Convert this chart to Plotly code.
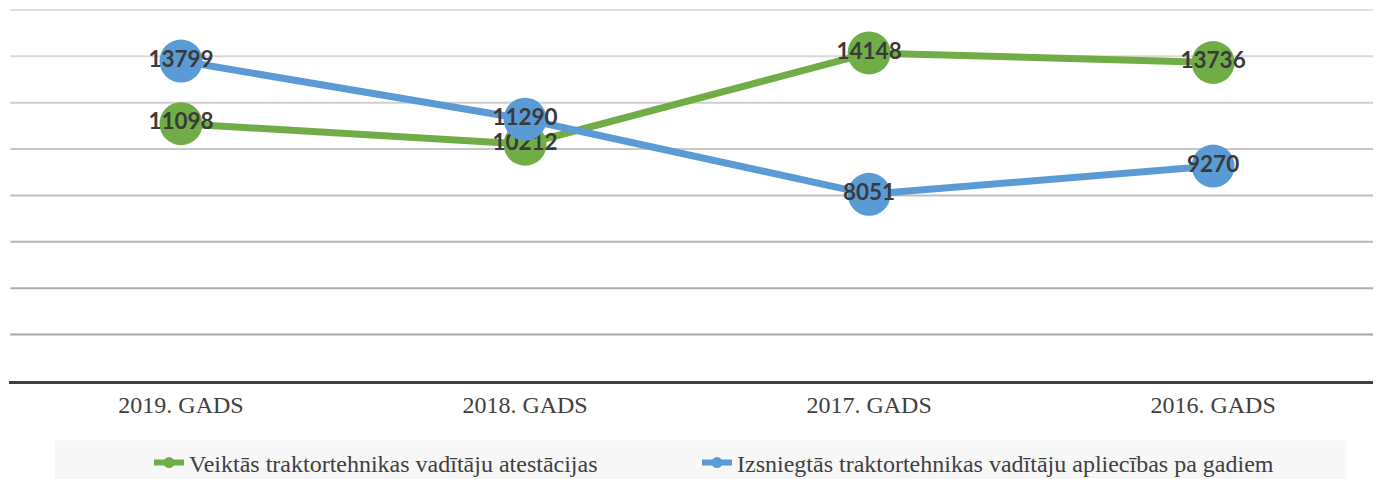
import plotly.graph_objects as go

categories = ["2019. GADS", "2018. GADS", "2017. GADS", "2016. GADS"]
atestacijas = [11098, 10212, 14148, 13736]
apliecibas = [13799, 11290, 8051, 9270]
name_green = "Veiktās traktortehnikas vadītāju atestācijas"
name_blue = "Izsniegtās traktortehnikas vadītāju apliecības pa gadiem"
grid_values = [2000, 4000, 6000, 8000, 10000, 12000, 14000, 16000]

GREEN = "#70ad47"
BLUE = "#5b9bd5"
TXT = "#404040"

fig = go.Figure()

# gridlines (gradient from dark at bottom to light at top)
n = len(grid_values)
for i, gv in enumerate(grid_values):
    t = i / (n - 1)
    c = int(round(0xa6 + t * (0xe0 - 0xa6)))
    fig.add_shape(type="line", xref="paper", yref="y", x0=0.001, x1=1, y0=gv, y1=gv,
                  line=dict(color=f"rgb({c},{c},{c})", width=2), layer="below")

for name, vals, col in [(name_green, atestacijas, GREEN), (name_blue, apliecibas, BLUE)]:
    fig.add_trace(go.Scatter(
        x=categories, y=vals, mode="lines+markers+text",
        line=dict(color=col, width=7),
        marker=dict(color=col, size=43),
        text=[str(v) for v in vals], textposition="middle center",
        textfont=dict(family="Lato", size=22.5, color="#3a3a3a", weight="bold"),
        showlegend=False, cliponaxis=False,
    ))
for name, col, lg in [(name_green, GREEN, "legend"), (name_blue, BLUE, "legend2")]:
    fig.add_trace(go.Scatter(
        x=[None], y=[None], mode="lines+markers", name=name, legend=lg,
        line=dict(color=col, width=6), marker=dict(color=col, size=11),
    ))

fig.add_shape(type="rect", xref="paper", yref="paper",
              x0=(47 - 1) / 1372, x1=(1338 - 1) / 1372,
              y0=-0.1593, y1=-0.27, fillcolor="#f7f7f7", line=dict(width=0), layer="below")

legend_common = dict(orientation="h", xref="container", yref="container",
                     xanchor="left", y=0.034, yanchor="middle",
                     bgcolor="rgba(0,0,0,0)",
                     font=dict(family="Liberation Serif", size=24, color=TXT))

fig.update_layout(
    width=1373, height=471,
    margin=dict(l=1, r=0, t=0, b=97.5, autoexpand=False),
    paper_bgcolor="white", plot_bgcolor="white",
    xaxis=dict(type="category", range=[-0.5, 3.488], showgrid=False, automargin=False,
               showline=True, linecolor="#404040", linewidth=3,
               ticks="", tickfont=dict(family="Liberation Serif", size=24, color=TXT)),
    yaxis=dict(range=[0, 16086], showgrid=False, showticklabels=False, automargin=False,
               zeroline=False),
    legend=dict(x=141 / 1373, **legend_common),
    legend2=dict(x=689 / 1373, **legend_common),
)
fig.write_html("out.html")
